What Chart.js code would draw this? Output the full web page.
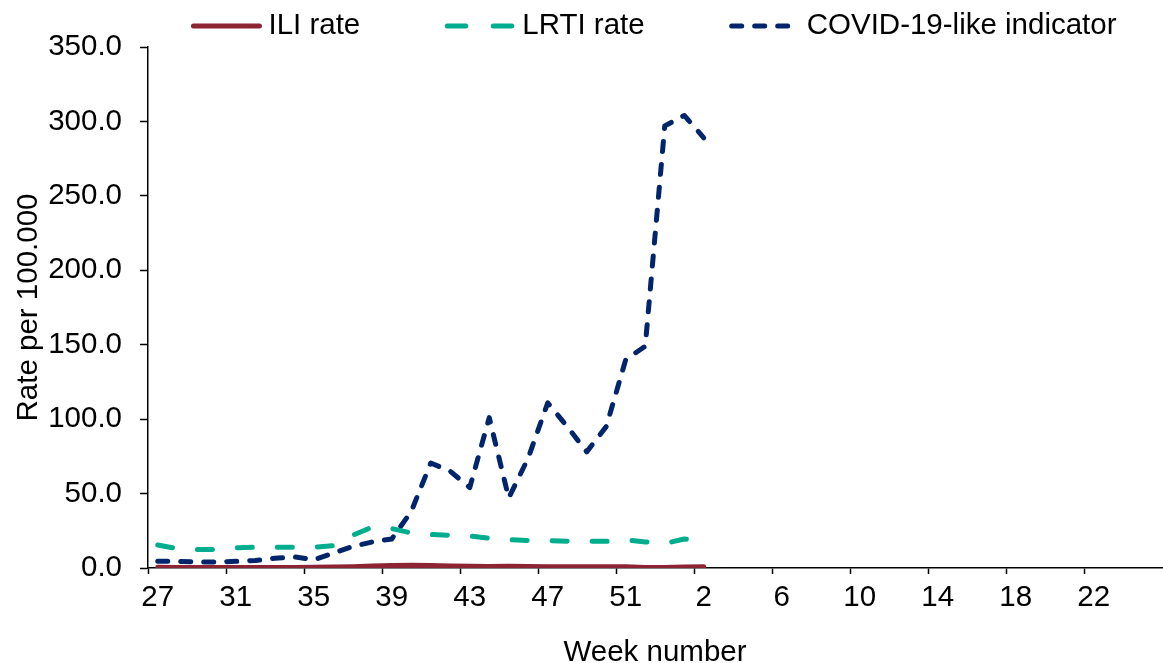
<!DOCTYPE html>
<html>
<head>
<meta charset="utf-8">
<script src="https://cdn.jsdelivr.net/npm/chart.js@4"></script>
<style>
  body { margin: 0; background: #fff; }
</style>
</head>
<body>
<canvas id="week_chart" width="1163" height="663"></canvas>
<script>
// weeks 27-53 then 1-25
const weeks = ['27','28','29','30','31','32','33','34','35','36','37','38','39','40','41','42','43','44','45','46','47','48','49','50','51','52','53',
  '1','2','3','4','5','6','7','8','9','10','11','12','13','14','15','16','17','18','19','20','21','22','23','24','25'];

// values up to week 2, rest empty
const iliRate = [0.5, 0.4, 0.4, 0.4, 0.4, 0.4, 0.4, 0.4, 0.5, 0.6, 0.9, 1.3, 1.6, 1.8, 1.6, 1.4, 1.2, 1.0, 1.1, 1.0, 0.9, 0.9, 0.8, 0.9, 0.8, 0.4, 0.3, 0.6, 0.8];
const lrtiRate = [15.5, 13, 12.5, 12.5, 13.5, 14, 14, 14, 14, 15, 22, 27.5, 26.5, 23.5, 22.5, 22, 21.5, 20, 19, 18.5, 18.5, 18, 18, 18, 19, 17.5, 16.5, 19.5, 18];
const covidLike = [4.5, 4.5, 4, 4, 4.5, 5, 6.5, 7.5, 5.5, 10, 14.5, 17.5, 19.5, 38, 70.5, 65, 54, 101, 47, 74, 111, 95, 78, 95, 140, 149, 297, 304, 289];

const yTicks = [0, 50, 100, 150, 200, 250, 300, 350];

const fontFamily = '"Liberation Sans", Arial, sans-serif';
const font = { family: fontFamily, size: 29.5, lineHeight: 1 };

// legend drawn as line samples, centred over the plot area
const lineLegend = {
    id: 'lineLegend',
    afterDraw(chart) {
        const { ctx, chartArea } = chart;
        const sample = 66, textGap = 9, itemGap = 87, y = 26;
        ctx.save();
        ctx.font = font.size + 'px ' + fontFamily;
        const sets = chart.data.datasets;
        const widths = sets.map(d => sample + textGap + ctx.measureText(d.label).width);
        const total = widths.reduce((a, b) => a + b, 0) + itemGap * (sets.length - 1);
        let x = (chartArea.left + chartArea.right) / 2 - total / 2;
        sets.forEach((d, i) => {
            ctx.beginPath();
            ctx.setLineDash(d.legendDash || d.borderDash || []);
            ctx.lineCap = 'round';
            ctx.lineWidth = d.borderWidth;
            ctx.strokeStyle = d.borderColor;
            ctx.moveTo(x, y);
            ctx.lineTo(x + sample, y);
            ctx.stroke();
            ctx.setLineDash([]);
            ctx.fillStyle = '#000';
            ctx.textBaseline = 'middle';
            ctx.textAlign = 'left';
            ctx.fillText(d.label, x + sample + textGap, y);
            x += widths[i] + itemGap;
        });
        ctx.restore();
    }
};

const ctx = document.getElementById('week_chart').getContext('2d');

new Chart(ctx, {
    type: 'line',
    data: {
        labels: weeks,
        datasets: [{
            label: 'ILI rate',
            data: iliRate,
            borderColor: '#8C2434',
            backgroundColor: '#8C2434',
            borderWidth: 5,
            borderCapStyle: 'round'
        }, {
            label: 'LRTI rate',
            data: lrtiRate,
            borderColor: '#00AE8E',
            backgroundColor: '#00AE8E',
            borderWidth: 5,
            borderDash: [15, 25],
            legendDash: [18.5, 27.5],
            borderCapStyle: 'round'
        }, {
            label: 'COVID-19-like indicator',
            data: covidLike,
            borderColor: '#00256B',
            backgroundColor: '#00256B',
            borderWidth: 5,
            borderDash: [10, 13],
            borderCapStyle: 'round'
        }]
    },
    plugins: [lineLegend],
    options: {
        responsive: false,
        animation: false,
        layout: { padding: { left: 8, right: 1, top: 47, bottom: 0 } },
        elements: {
            point: { radius: 0 },
            line: { tension: 0, borderJoinStyle: 'round' }
        },
        plugins: {
            legend: { display: false },
            tooltip: { enabled: false }
        },
        scales: {
            x: {
                offset: true,
                afterFit: (s) => { s.height = 95; },
                grid: {
                    offset: true,
                    drawOnChartArea: false,
                    tickLength: 6,
                    tickWidth: 1.5,
                    tickColor: (c) => c.index % 4 === 0 ? '#000' : 'rgba(0,0,0,0)'
                },
                border: { color: '#000', width: 1.5 },
                ticks: {
                    autoSkip: false,
                    maxRotation: 0,
                    color: '#000',
                    font: font,
                    padding: 9,
                    callback: (v, i) => i % 4 === 0 ? weeks[i] : ''
                },
                title: {
                    display: true,
                    text: 'Week number',
                    color: '#000',
                    font: font,
                    padding: { top: 0, bottom: -4.5 }
                }
            },
            y: {
                min: 0,
                max: 350,
                afterFit: (s) => { s.width = 140; },
                afterBuildTicks: (s) => { s.ticks = yTicks.map(v => ({ value: v })); },
                grid: {
                    drawOnChartArea: false,
                    tickLength: 8,
                    tickWidth: 1.5,
                    tickColor: '#000'
                },
                border: { color: '#000', width: 1.5 },
                ticks: {
                    color: '#000',
                    font: font,
                    padding: 18,
                    callback: (v) => v.toFixed(1)
                },
                title: {
                    display: true,
                    text: 'Rate per 100.000',
                    color: '#000',
                    font: font,
                    padding: { top: 6, bottom: 0 }
                }
            }
        }
    }
});
</script>
</body>
</html>
